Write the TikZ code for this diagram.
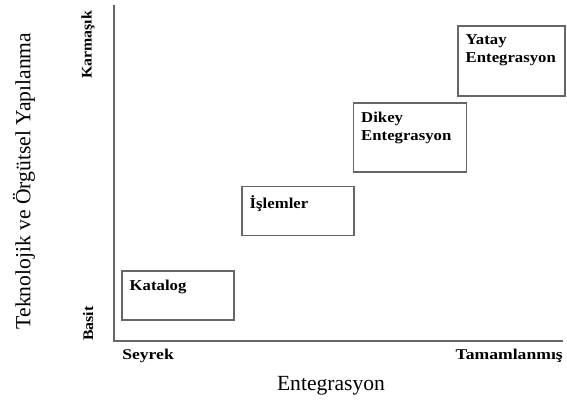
\documentclass[tikz,border=0pt]{standalone}
\usepackage{fontspec}
\setmainfont{Liberation Serif}
\newfontfamily\boxfont[FakeStretch=1.11]{Liberation Serif}
\newfontfamily\tickfont[FakeStretch=1.18]{Liberation Serif}
\newfontfamily\vtickfont[FakeStretch=1.08]{Liberation Serif}
\begin{document}
\begin{tikzpicture}[x=0.75pt,y=-0.75pt,
  stage/.style={draw=black!60, line width=0.8pt, rectangle, inner sep=0pt},
  boxtext/.style={anchor=north west, inner sep=0pt, xshift=6pt, yshift=-7pt,
     font=\boxfont\fontsize{11.3}{13.5}\selectfont\bfseries, align=left},
  axis/.style={draw=black!60, line width=1.1pt},
  ticktext/.style={font=\tickfont\fontsize{11.2}{12}\selectfont\bfseries, inner sep=0pt},
  vticktext/.style={font=\vtickfont\fontsize{11}{12}\selectfont\bfseries, inner sep=0pt, rotate=90},
  axistitle/.style={font=\fontsize{16.2}{18}\selectfont, inner sep=0pt}]
\useasboundingbox (0,0) rectangle (567,410);
% axes
\coordinate (top) at (114,5);
\coordinate (origin) at (114,341);
\coordinate (right) at (563,341);
\draw[axis] (top) -- (origin) -- (right);
% boxes
\node[stage, minimum width=84pt, minimum height=36.75pt] (katalog) at (178,295.5) {};
\node[boxtext] (tkatalog) at (katalog.north west) {Katalog};
\node[stage, minimum width=84pt, minimum height=36.75pt] (islem) at (298,211) {};
\node[boxtext] (tislem) at (islem.north west) {İşlemler};
\node[stage, minimum width=84.75pt, minimum height=51.75pt] (dikey) at (410,137.5) {};
\node[boxtext] (tdikey) at (dikey.north west) {Dikey\\Entegrasyon};
\node[stage, minimum width=80.25pt, minimum height=52.5pt] (yatay) at (511.5,61) {};
\node[boxtext] (tyatay) at (yatay.north west) {Yatay\\Entegrasyon};
% tick labels
\node[ticktext, anchor=west] (seyrek) at (122,356) {Seyrek};
\node[ticktext, anchor=east] (tam) at (563,356) {Tamamlanmış};
\node[vticktext] (basit) at (88,323.5) {Basit};
\node[vticktext] (karmasik) at (88,45) {Karmaşık};
% axis titles
\node[axistitle] (xtitle) at (331,386) {Entegrasyon};
\node[axistitle, rotate=90] (ytitle) at (24,181) {Teknolojik ve Örgütsel Yapılanma};
\end{tikzpicture}
\end{document}
